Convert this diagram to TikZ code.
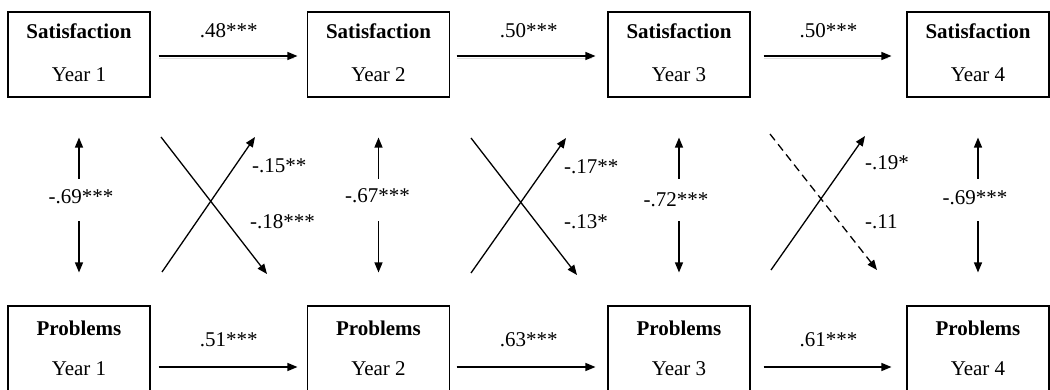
\documentclass[tikz,border=0pt]{standalone}
\usepackage{fontspec}
\setmainfont{Liberation Serif}
\usetikzlibrary{arrows.meta}
\begin{document}
\begin{tikzpicture}[x=1pt,y=-1pt,
  box/.style={draw, line width=1.1pt, minimum width=142pt, minimum height=85pt, inner sep=0pt},
  txt/.style={anchor=base, font=\fontsize{21}{24}\selectfont, inner sep=0pt},
  btxt/.style={anchor=base, font=\fontsize{21}{24}\selectfont\bfseries, inner sep=0pt},
  arr/.style={line width=1.3pt, -{Triangle[length=10pt,width=8pt]}},
  shadowline/.style={line width=1.2pt, black!13},
]
\useasboundingbox (0,0) rectangle (1050,390);

% boxes
\foreach \i/\x in {1/79,2/378.5,3/679,4/978}{
  \node[box] (s\i) at (\x,54.5) {};
  \node[btxt] (s\i t) at (\x,39) {Satisfaction};
  \node[txt] (s\i y) at (\x,82) {Year \i};
  \node[box] (p\i) at (\x,348.5) {};
  \node[btxt] (p\i t) at (\x,335) {Problems};
  \node[txt] (p\i y) at (\x,375) {Year \i};
}

% horizontal paths
\foreach \a/\b/\sa/\sb/\ls/\lp in {1/2/8/9.5/.48***/.51***,2/3/6.5/12/.50***/.63***,3/4/13/15/.50***/.61***}{
  \draw[shadowline, shorten <=\sa pt, shorten >=\sb pt+3pt] ([yshift=-4pt]s\a.east) -- ([yshift=-4pt]s\b.west);
  \draw[arr, shorten <=\sa pt, shorten >=\sb pt] ([yshift=-1.5pt]s\a.east) -- node[txt, pos=0.5, yshift=18pt] {\ls} ([yshift=-1.5pt]s\b.west);
  \draw[arr, shorten <=\sa pt, shorten >=\sb pt] ([yshift=-18.5pt]p\a.east) -- node[txt, pos=0.5, yshift=21pt] {\lp} ([yshift=-18.5pt]p\b.west);
}

% vertical correlations
\foreach \i/\lx/\ly/\lt in {1/81/204/-.69***,2/377.5/203/-.67***,3/676/207/-.72***,4/975/205/-.69***}{
  \node[txt] (v\i) at (\lx,\ly) {\lt};
  \draw[arr, shorten >=40pt] ([yshift=-81pt]s\i.south) -- (s\i.south);
  \draw[arr, shorten >=33pt] ([yshift=84pt]p\i.north) -- (p\i.north);
}

% cross-lagged paths
\coordinate (a1s) at (161,137); \coordinate (a1e) at (267,274);
\coordinate (b1s) at (162,272); \coordinate (b1e) at (255,137);
\coordinate (a2s) at (471,138); \coordinate (a2e) at (577,275);
\coordinate (b2s) at (471,273); \coordinate (b2e) at (566,138);
\coordinate (a3s) at (770,134); \coordinate (a3e) at (877,270);
\coordinate (b3s) at (771,270); \coordinate (b3e) at (865,136);

\draw[arr] (a1s) -- (a1e);
\draw[arr] (b1s) -- (b1e);
\draw[arr] (a2s) -- (a2e);
\draw[arr] (b2s) -- (b2e);
\draw[arr, dash pattern=on 8pt off 5pt] (a3s) -- (a3e);
\draw[arr] (b3s) -- (b3e);

\node[txt, anchor=base west] (c1u) at (252,173) {-.15**};
\node[txt, anchor=base west] (c1d) at (250,229) {-.18***};
\node[txt, anchor=base west] (c2u) at (564,174) {-.17**};
\node[txt, anchor=base west] (c2d) at (564,229) {-.13*};
\node[txt, anchor=base west] (c3u) at (865,170) {-.19*};
\node[txt, anchor=base west] (c3d) at (865,229) {-.11};
\end{tikzpicture}
\end{document}
